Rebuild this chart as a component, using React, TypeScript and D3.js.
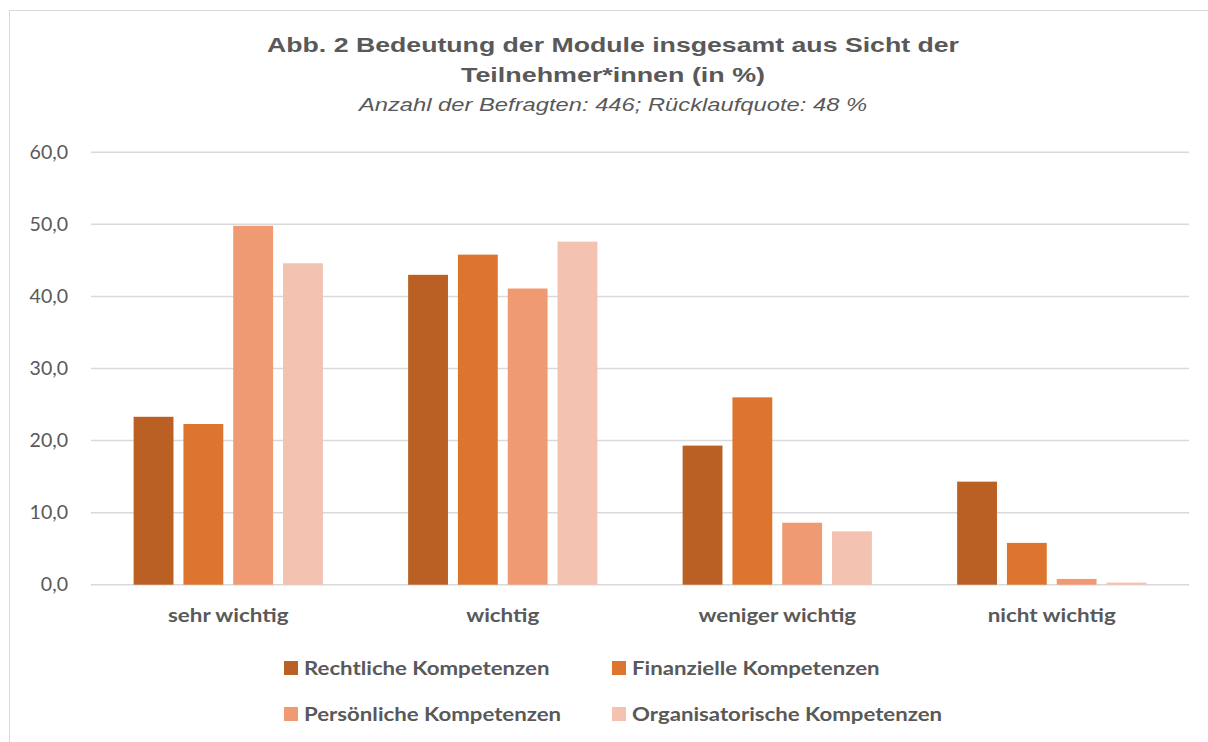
import React, { useEffect, useRef } from 'react';
import * as d3 from 'd3';

const categories = ['sehr wichtig', 'wichtig', 'weniger wichtig', 'nicht wichtig'];
const seriesNames = [
  'Rechtliche Kompetenzen',
  'Finanzielle Kompetenzen',
  'Persönliche Kompetenzen',
  'Organisatorische Kompetenzen',
];
const rechtliche = [23.3, 43.0, 19.3, 14.3];
const finanzielle = [22.3, 45.8, 26.0, 5.8];
const persoenliche = [49.8, 41.1, 8.6, 0.8];
const organisatorische = [44.6, 47.6, 7.4, 0.3];
const yTicks = [0, 10, 20, 30, 40, 50, 60];

const colors = ['#BA6024', '#DE752E', '#EF9A72', '#F4C2B0'];

const App: React.FC = () => {
  const ref = useRef<SVGSVGElement>(null);

  useEffect(() => {
    if (!ref.current) return;
    const svg = d3.select(ref.current);
    svg.selectAll('*').remove();

    const values = [rechtliche, finanzielle, persoenliche, organisatorische];
    const left = 91;
    const right = 1189;
    const top = 152.3;
    const bottom = 584.7;
    const textColor = '#595959';
    const sans = "'Liberation Sans', Arial, sans-serif";
    const cal = "Lato, 'Open Sans', sans-serif";
    // the reference's text is a bit wider than these fonts, stretch it horizontally
    const place = (x: number, y: number, sx: number) => `translate(${x},${y}) scale(${sx},1)`;

    // chart frame
    svg
      .append('rect')
      .attr('x', 9.5)
      .attr('y', 10.5)
      .attr('width', 1400)
      .attr('height', 900)
      .attr('fill', '#fff')
      .attr('stroke', '#d9d9d9');

    // title
    const title = svg.append('g').attr('text-anchor', 'middle').attr('fill', textColor);
    title
      .append('text')
      .attr('transform', place(613, 52, 1.27))
      .style('font-family', sans)
      .style('font-weight', 'bold')
      .style('font-size', '21px')
      .text('Abb. 2 Bedeutung der Module insgesamt aus Sicht der');
    title
      .append('text')
      .attr('transform', place(613, 82, 1.28))
      .style('font-family', sans)
      .style('font-weight', 'bold')
      .style('font-size', '21px')
      .text('Teilnehmer*innen (in %)');
    title
      .append('text')
      .attr('transform', place(613, 111, 1.32))
      .style('font-family', sans)
      .style('font-style', 'italic')
      .style('font-size', '18px')
      .text('Anzahl der Befragten: 446; Rücklaufquote: 48 %');

    // scales
    const y = d3.scaleLinear().domain([0, 60]).range([bottom, top]);
    const x0 = d3.scaleBand().domain(categories).range([left, right]).padding(0);
    const x1 = d3
      .scaleBand()
      .domain(seriesNames)
      .range([0, x0.bandwidth()])
      .paddingInner(0.2)
      .paddingOuter(0.856);

    // gridlines
    svg
      .append('g')
      .selectAll('line')
      .data(yTicks)
      .enter()
      .append('line')
      .attr('x1', left)
      .attr('x2', right)
      .attr('y1', (d) => y(d))
      .attr('y2', (d) => y(d))
      .attr('stroke', '#d9d9d9')
      .attr('stroke-width', 1.5);

    // y labels
    svg
      .append('g')
      .selectAll('text')
      .data(yTicks)
      .enter()
      .append('text')
      .attr('transform', (d) => place(68, y(d), 1.03))
      .attr('dy', '0.35em')
      .attr('text-anchor', 'end')
      .attr('fill', textColor)
      .style('font-family', cal)
      .style('font-size', '19px')
      .text((d) => d3.format('.1f')(d).replace('.', ','));

    // bars
    const groups = svg
      .append('g')
      .selectAll('g')
      .data(seriesNames)
      .enter()
      .append('g')
      .attr('fill', (_, i) => colors[i]);

    groups
      .selectAll('rect')
      .data((_, i) => categories.map((c, j) => ({ c, s: seriesNames[i], v: values[i][j] })))
      .enter()
      .append('rect')
      .attr('x', (d) => (x0(d.c) as number) + (x1(d.s) as number))
      .attr('y', (d) => y(d.v))
      .attr('width', x1.bandwidth())
      .attr('height', (d) => bottom - y(d.v));

    // category labels
    svg
      .append('g')
      .selectAll('text')
      .data(categories)
      .enter()
      .append('text')
      .attr('transform', (d) => place((x0(d) as number) + x0.bandwidth() / 2, 622, 1.18))
      .attr('text-anchor', 'middle')
      .attr('fill', textColor)
      .style('font-family', cal)
      .style('font-weight', 'bold')
      .style('font-size', '19px')
      .text((d) => d);

    // legend
    const legendPos = [
      [284, 668],
      [612, 668],
      [284, 714],
      [612, 714],
    ];
    const legend = svg
      .append('g')
      .selectAll('g')
      .data(seriesNames)
      .enter()
      .append('g')
      .attr('transform', (_, i) => `translate(${legendPos[i][0]},${legendPos[i][1]})`);
    legend
      .append('rect')
      .attr('x', 0)
      .attr('y', -7)
      .attr('width', 14)
      .attr('height', 14)
      .attr('fill', (_, i) => colors[i]);
    legend
      .append('text')
      .attr('transform', place(20, 0, 1.17))
      .attr('dy', '0.35em')
      .attr('fill', textColor)
      .style('font-family', cal)
      .style('font-weight', 'bold')
      .style('font-size', '19px')
      .text((d) => d);
  }, []);

  return (
    <svg
      ref={ref}
      width={1208}
      height={742}
      style={{ position: 'absolute', left: 0, top: 0, background: '#fff' }}
    />
  );
};

export default App;
